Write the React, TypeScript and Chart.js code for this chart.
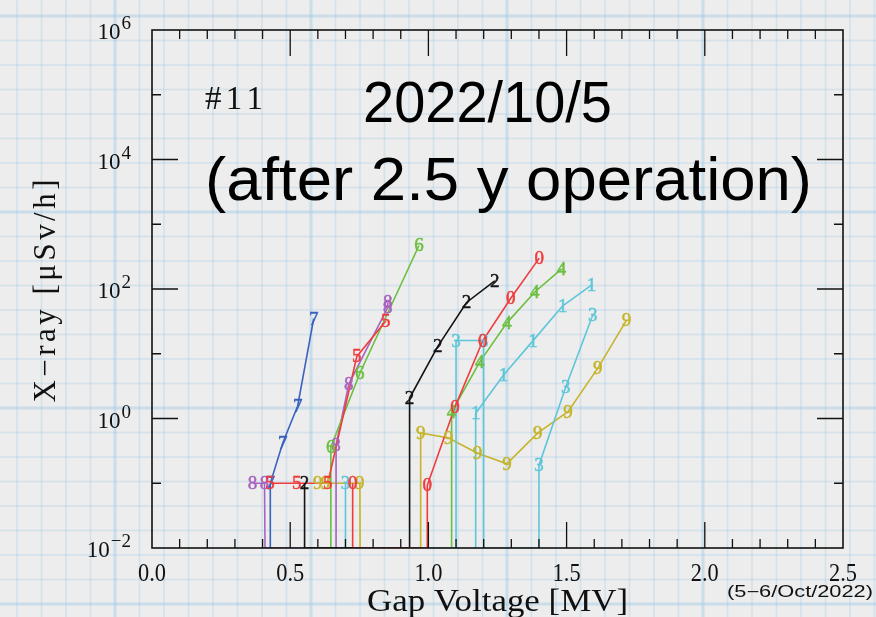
import { useEffect, useRef } from 'react';
import { Chart, registerables } from 'chart.js';

Chart.register(...registerables);

// Axis ranges and tick labels
const X_MIN = 0;
const X_MAX = 2.5;
const Y_MIN = 1e-2;
const Y_MAX = 1e6;
const X_MAJOR = [0, 0.5, 1.0, 1.5, 2.0, 2.5];
const X_MAJOR_LABELS = ['0.0', '0.5', '1.0', '1.5', '2.0', '2.5'];
const X_MINOR_STEP = 0.1;
const Y_DECADES = [-2, -1, 0, 1, 2, 3, 4, 5, 6];
const Y_LABELED = [-2, 0, 2, 4, 6];

// Gap voltage [MV] and X-ray dose [μSv/h] per cavity tag.
// A dose of 0 means "below detection" and sits on the bottom axis.
const V0 = [0.726, 0.726, 0.996, 0.996, 1.096, 1.197, 1.298, 1.401];
const D0 = [0.1, 0, 0, 0.093, 1.5, 16, 72, 300];
const V1 = [1.171, 1.171, 1.272, 1.378, 1.486, 1.59];
const D1 = [0, 1.2, 4.7, 15.8, 55, 115];
const V2 = [0.552, 0.552, 0.932, 0.932, 1.034, 1.138, 1.24];
const D2 = [0.1, 0, 0, 2.07, 13, 62, 133];
const V3 = [0.70, 0.70, 1.10, 1.10, 1.20, 1.20, 1.40, 1.40, 1.497, 1.595];
const D3 = [0.1, 0, 0, 16, 16, 0, 0, 0.19, 3.06, 40];
const V4 = [1.084, 1.084, 1.186, 1.284, 1.385, 1.482];
const D4 = [0, 1.26, 7.5, 30, 90, 205];
const V5 = [0.427, 0.524, 0.636, 0.741, 0.846];
const D5 = [0.1, 0.1, 0.1, 9.1, 32];
const V6 = [0.647, 0.647, 0.752, 0.966];
const D6 = [0, 0.36, 5.0, 470];
const V7 = [0.428, 0.428, 0.473, 0.527, 0.585];
const D7 = [0, 0.1, 0.42, 1.56, 35];
const V8 = [0.364, 0.407, 0.409, 0.666, 0.666, 0.712, 0.853, 0.853];
const D8 = [0.1, 0.1, 0, 0, 0.39, 3.4, 52, 62];
const V9 = [0.60, 0.628, 0.752, 0.753, 0.972, 0.972, 1.073, 1.178, 1.284, 1.396, 1.505, 1.613, 1.717];
const D9 = [0.1, 0.1, 0.1, 0, 0, 0.6, 0.5, 0.29, 0.2, 0.6, 1.27, 6.0, 33];

const RED = '#f03c3c';
const CYAN = '#5ec6da';
const BLACK = '#141414';
const GREEN = '#6cbf3f';
const BLUE = '#3a62bf';
const PURPLE = '#a765bf';
const OLIVE = '#c6b42c';

const SERIES = [
  { tag: '0', color: RED, v: V0, d: D0 },
  { tag: '1', color: CYAN, v: V1, d: D1 },
  { tag: '2', color: BLACK, v: V2, d: D2 },
  { tag: '3', color: CYAN, v: V3, d: D3 },
  { tag: '4', color: GREEN, v: V4, d: D4 },
  { tag: '5', color: RED, v: V5, d: D5 },
  { tag: '6', color: GREEN, v: V6, d: D6 },
  { tag: '7', color: BLUE, v: V7, d: D7 },
  { tag: '8', color: PURPLE, v: V8, d: D8 },
  { tag: '9', color: OLIVE, v: V9, d: D9 },
];

const PAPER = '#ededed';
const GRID_THIN = 'rgba(160, 202, 232, 0.34)';
const GRID_THICK = 'rgba(160, 202, 232, 0.48)';
const SERIF = '"Liberation Serif", "Times New Roman", serif';
const SANS = '"Liberation Sans", Arial, sans-serif';

// Draws text squeezed or stretched horizontally to a given width
function fitText(
  ctx: CanvasRenderingContext2D,
  text: string,
  x: number,
  y: number,
  font: string,
  width: number,
  align: 'left' | 'center' | 'right' = 'center'
) {
  ctx.save();
  ctx.font = font;
  ctx.textAlign = 'left';
  ctx.textBaseline = 'alphabetic';
  const w = ctx.measureText(text).width;
  const s = width > 0 ? width / w : 1;
  const left = align === 'left' ? x : align === 'right' ? x - w * s : x - (w * s) / 2;
  ctx.translate(left, y);
  ctx.scale(s, 1);
  ctx.fillText(text, 0, 0);
  ctx.restore();
}

// Draws text with letter spacing chosen so the run spans a given width
function spacedText(
  ctx: CanvasRenderingContext2D,
  text: string,
  x: number,
  y: number,
  font: string,
  width: number,
  align: 'left' | 'center' = 'center'
) {
  ctx.save();
  ctx.font = font;
  ctx.textAlign = 'left';
  ctx.textBaseline = 'alphabetic';
  const chars = Array.from(text);
  const widths = chars.map((c) => ctx.measureText(c).width);
  const natural = widths.reduce((a, b) => a + b, 0);
  const gap = chars.length > 1 ? (width - natural) / (chars.length - 1) : 0;
  let cx = align === 'left' ? x : x - width / 2;
  chars.forEach((c, i) => {
    ctx.fillText(c, cx, y);
    cx += widths[i] + gap;
  });
  ctx.restore();
}

// Graph-paper backdrop: fine squares with a heavier line every eighth square
const paperPlugin = {
  id: 'paper',
  beforeDraw(chart: any) {
    const { ctx, width, height } = chart;
    ctx.save();
    ctx.fillStyle = PAPER;
    ctx.fillRect(0, 0, width, height);
    const step = 24.5;
    const ox = 115;
    const oy = 16;
    for (let k = -8; k < 40; k++) {
      const x = ox + k * step;
      if (x < -2 || x > width + 2) continue;
      const thick = ((k % 8) + 8) % 8 === 0;
      ctx.strokeStyle = thick ? GRID_THICK : GRID_THIN;
      ctx.lineWidth = thick ? 3 : 1.5;
      ctx.beginPath();
      ctx.moveTo(x, 0);
      ctx.lineTo(x, height);
      ctx.stroke();
    }
    for (let k = -8; k < 30; k++) {
      const y = oy + k * step;
      if (y < -2 || y > height + 2) continue;
      const thick = ((k % 8) + 8) % 8 === 0;
      ctx.strokeStyle = thick ? GRID_THICK : GRID_THIN;
      ctx.lineWidth = thick ? 3 : 1.5;
      ctx.beginPath();
      ctx.moveTo(0, y);
      ctx.lineTo(width, y);
      ctx.stroke();
    }
    ctx.restore();
  },
};

// Frame, ticks, labels, titles and the digit markers of each series
const framePlugin = {
  id: 'frame',
  afterDatasetsDraw(chart: any) {
    const { ctx, chartArea, scales } = chart;
    const xs = scales.x;
    const ys = scales.y;
    const { left, right, top, bottom } = chartArea;
    const MAJOR = 26;
    const MINOR = 9;

    ctx.save();
    ctx.strokeStyle = '#111';
    ctx.lineWidth = 1.6;
    ctx.strokeRect(left, top, right - left, bottom - top);

    ctx.lineWidth = 1.3;
    ctx.beginPath();
    const nMinor = Math.round((X_MAX - X_MIN) / X_MINOR_STEP);
    for (let i = 1; i < nMinor; i++) {
      const v = X_MIN + i * X_MINOR_STEP;
      const px = xs.getPixelForValue(v);
      const len = i % 5 === 0 ? MAJOR : MINOR;
      ctx.moveTo(px, bottom);
      ctx.lineTo(px, bottom - len);
      ctx.moveTo(px, top);
      ctx.lineTo(px, top + len);
    }
    for (const e of Y_DECADES) {
      if (e === -2 || e === 6) continue;
      const py = ys.getPixelForValue(Math.pow(10, e));
      const len = e % 2 === 0 ? MAJOR : MINOR;
      ctx.moveTo(left, py);
      ctx.lineTo(left + len, py);
      ctx.moveTo(right, py);
      ctx.lineTo(right - len, py);
    }
    ctx.stroke();

    ctx.fillStyle = '#111';
    X_MAJOR.forEach((v, i) => {
      const px = xs.getPixelForValue(v);
      fitText(ctx, X_MAJOR_LABELS[i], px, 581, `26px ${SERIF}`, 28, 'center');
    });

    for (const e of Y_LABELED) {
      const py = ys.getPixelForValue(Math.pow(10, e));
      const exp = e < 0 ? '\u2212' + Math.abs(e) : String(e);
      ctx.font = `19px ${SERIF}`;
      const ew = ctx.measureText(exp).width;
      const xr = 131;
      ctx.textAlign = 'left';
      ctx.textBaseline = 'alphabetic';
      ctx.fillText(exp, xr - ew, py - 1);
      ctx.font = `23px ${SERIF}`;
      ctx.textAlign = 'right';
      ctx.fillText('10', xr - ew - 1, py + 9);
    }

    // axis titles
    fitText(ctx, 'Gap Voltage [MV]', 497.5, 611, `31px ${SERIF}`, 261, 'center');
    ctx.save();
    ctx.translate(55, 291);
    ctx.rotate(-Math.PI / 2);
    spacedText(ctx, 'X\u2212ray [\u03bcSv/h]', 0, 0, `31px ${SERIF}`, 223, 'center');
    ctx.restore();

    fitText(ctx, '(5\u22126/Oct/2022)', 800, 597, `16px ${SANS}`, 146, 'center');

    // annotations inside the frame
    spacedText(ctx, '#11', 205, 109, `33px ${SERIF}`, 58, 'left');
    ctx.fillStyle = '#000';
    fitText(ctx, '2022/10/5', 487.5, 122, `58px ${SANS}`, 249, 'center');
    fitText(ctx, '(after 2.5 y operation)', 508.5, 200, `62px ${SANS}`, 607, 'center');

    // digit markers (drawn high tag first so low tags stay on top)
    ctx.font = `19px ${SERIF}`;
    ctx.textAlign = 'center';
    ctx.textBaseline = 'middle';
    ctx.lineWidth = 0.5;
    for (let s = SERIES.length - 1; s >= 0; s--) {
      const ser = SERIES[s];
      const meta = chart.getDatasetMeta(s);
      ctx.fillStyle = ser.color;
      ctx.strokeStyle = ser.color;
      meta.data.forEach((pt: any, i: number) => {
        if (!(ser.d[i] > 0)) return;
        ctx.fillText(ser.tag, pt.x, pt.y + 1);
        ctx.strokeText(ser.tag, pt.x, pt.y + 1);
      });
    }
    ctx.restore();
  },
};

export default function App() {
  const ref = useRef<HTMLCanvasElement | null>(null);

  useEffect(() => {
    if (!ref.current) return;
    const chart = new Chart(ref.current, {
      type: 'scatter',
      data: {
        datasets: SERIES.map((s) => ({
          label: s.tag,
          // undetected readings are pinned to the axis floor
          data: s.v.map((v, i) => ({ x: v, y: s.d[i] > 0 ? s.d[i] : Y_MIN })),
          borderColor: s.color,
          backgroundColor: s.color,
          borderWidth: 1.6,
          pointRadius: 0,
          showLine: true,
          tension: 0,
        })),
      },
      options: {
        responsive: false,
        animation: false,
        devicePixelRatio: 1,
        layout: { padding: { left: 152, right: 33, top: 30, bottom: 69 } },
        scales: {
          x: { type: 'linear', min: X_MIN, max: X_MAX, display: false },
          y: { type: 'logarithmic', min: Y_MIN, max: Y_MAX, display: false },
        },
        plugins: {
          legend: { display: false },
          tooltip: { enabled: false },
        },
      },
      plugins: [paperPlugin, framePlugin],
    });
    return () => chart.destroy();
  }, []);

  return (
    <div style={{ position: 'fixed', left: 0, top: 0, width: 876, height: 617, overflow: 'hidden' }}>
      <canvas ref={ref} width={876} height={617} style={{ display: 'block' }} />
    </div>
  );
}
